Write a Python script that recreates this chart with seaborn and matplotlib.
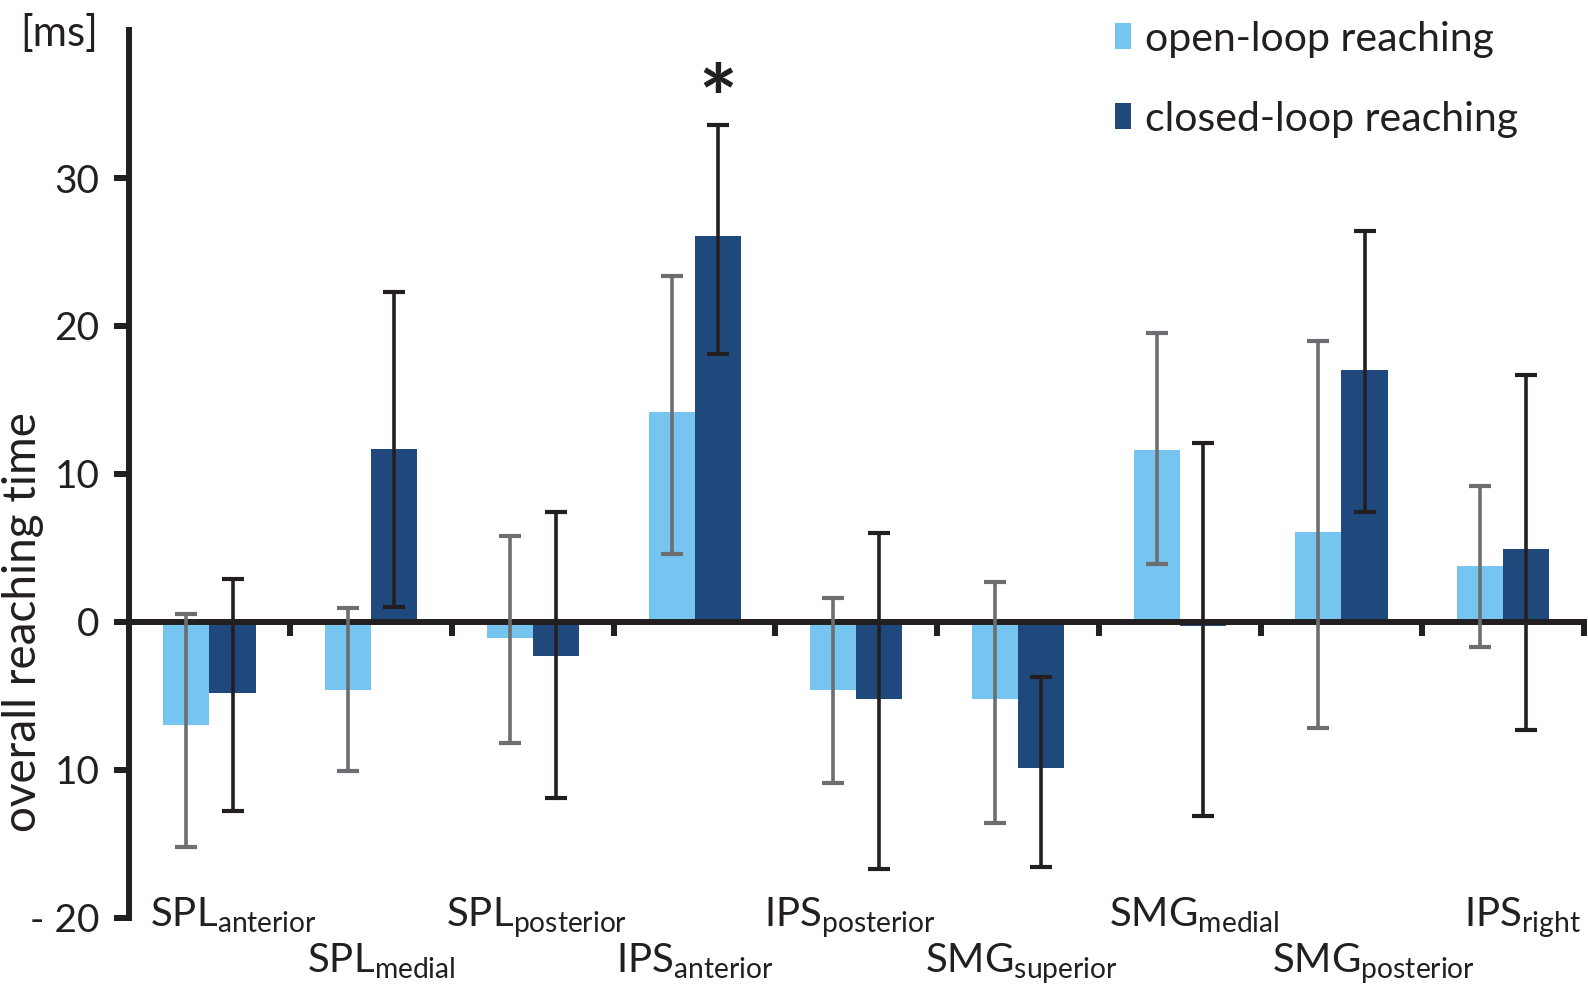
import numpy as np
import pandas as pd
import matplotlib
matplotlib.use("Agg")
import matplotlib.pyplot as plt
import seaborn as sns

# ---------------- data ----------------
regions = ["SPL", "SPL", "SPL", "IPS", "IPS", "SMG", "SMG", "SMG", "IPS"]
subregions = ["anterior", "medial", "posterior", "anterior", "posterior",
              "superior", "medial", "posterior", "right"]
conditions = ["open-loop reaching", "closed-loop reaching"]

open_vals = [-7.0, -4.6, -1.1, 14.2, -4.6, -5.2, 11.6, 6.1, 3.8]
open_hi = [0.5, 0.9, 5.8, 23.4, 1.6, 2.7, 19.5, 19.0, 9.2]
open_lo = [-15.2, -10.1, -8.2, 4.6, -10.9, -13.6, 3.9, -7.2, -1.7]

closed_vals = [-4.8, 11.7, -2.3, 26.1, -5.2, -9.9, -0.3, 17.0, 4.9]
closed_hi = [2.9, 22.3, 7.4, 33.6, 6.0, -3.7, 12.1, 26.4, 16.7]
closed_lo = [-12.8, 1.0, -11.9, 18.1, -16.7, -16.6, -13.1, 7.4, -7.3]

ytick_values = [-20, -10, 0, 10, 20, 30]
ytick_labels = ["- 20", "10", "0", "10", "20", "30"]
significant = [(3, 1)]  # (region index, condition index) marked with *

# ---------------- style ----------------
sns.set_style("white")
plt.rcParams["font.family"] = ["Lato", "DejaVu Sans"]
plt.rcParams["mathtext.fontset"] = "custom"
plt.rcParams["mathtext.rm"] = "Lato"
plt.rcParams["mathtext.it"] = "Lato:italic"
plt.rcParams["mathtext.bf"] = "Lato:bold"

INK = "#231F20"
LIGHT = "#76C5F0"
DARK = "#1F497D"
ERR_COLORS = ["#6D6E71", INK]
FS = 28

# horizontal nudges of the staggered category labels (layout only)
label_dx = [0.15, 0.06, 0.02, 0.0, -0.04, 0.02, 0.09, 0.2, 0.12]

categories = [f"{r} {s}" for r, s in zip(regions, subregions)]
df = pd.DataFrame({
    "region": categories * 2,
    "value": open_vals + closed_vals,
    "condition": [conditions[0]] * len(categories) + [conditions[1]] * len(categories),
})

fig = plt.figure(figsize=(15.88, 9.84), dpi=100)
ax = fig.add_axes([0.081, 0.0675, 0.9165, 0.9018])

sns.barplot(data=df, x="region", y="value", hue="condition", order=categories,
            hue_order=conditions, palette=[LIGHT, DARK], width=0.57,
            saturation=1, errorbar=None, ax=ax, zorder=1, linewidth=0)

# error bars centred on each bar
vals = [open_vals, closed_vals]
his = [open_hi, closed_hi]
los = [open_lo, closed_lo]
bar_containers = list(ax.containers)
centers = []
for ci, cont in enumerate(bar_containers):
    xs = [p.get_x() + p.get_width() / 2 for p in cont.patches]
    centers.append(xs)
for ci, xs in enumerate(centers):
    v = np.array(vals[ci]); hi = np.array(his[ci]); lo = np.array(los[ci])
    ax.errorbar(xs, v, yerr=[v - lo, hi - v], fmt="none", ecolor=ERR_COLORS[ci],
                elinewidth=2.6, capsize=8, capthick=3, zorder=4)

# significance marker
for ri, ci in significant:
    ax.text(centers[ci][ri], 34.9, "*", ha="center", va="center",
            fontsize=66, fontweight="bold", color=INK)

# axes styling
ax.set_xlim(-0.5, len(categories) - 0.5)
ax.set_ylim(-20, 40)
for s in ["top", "right"]:
    ax.spines[s].set_visible(False)
ax.spines["left"].set_linewidth(4.3)
ax.spines["left"].set_color(INK)
ax.spines["left"].set_bounds(-20, 40)
ax.spines["bottom"].set_position(("data", 0))
ax.spines["bottom"].set_linewidth(4.3)
ax.spines["bottom"].set_color(INK)
ax.spines["bottom"].set_zorder(3)

ax.set_yticks(ytick_values)
ax.set_yticklabels(ytick_labels)
ax.tick_params(axis="y", direction="out", length=11, width=4.3, color=INK,
               labelsize=FS, labelcolor=INK, pad=10, left=True)
ax.set_xticks(np.arange(len(categories)) + 0.5)
ax.set_xticklabels([])
ax.tick_params(axis="x", direction="out", length=10, width=4.3, color=INK, bottom=True)
ax.set_xlabel("")
ax.set_ylabel("overall reaching time", fontsize=33, color=INK)
ax.yaxis.set_label_coords(-0.058, 20 / 60)

# category labels, staggered
for i, (r, s) in enumerate(zip(regions, subregions)):
    y = -20.6 if i % 2 == 0 else -23.7
    ax.text(i + label_dx[i], y, r"$\mathrm{" + r + r"}_{\mathrm{" + s + r"}}$",
            ha="center", va="baseline", fontsize=FS + 1, color=INK, clip_on=False)

fig.text(59 / 1588, 1 - 33 / 984, "[ms]", ha="center", va="center",
         fontsize=30, color=INK)

# legend
handles, labels = ax.get_legend_handles_labels()
ax.legend(handles, labels, loc="upper left", bbox_to_anchor=(0.702, 0.979),
          bbox_transform=fig.transFigure, frameon=False, fontsize=29.5,
          handlelength=0.4, handleheight=0.6, handletextpad=0.33,
          labelspacing=1.05, borderpad=0, borderaxespad=0,
          labelcolor=INK)

fig.savefig("out.png", dpi=100)
